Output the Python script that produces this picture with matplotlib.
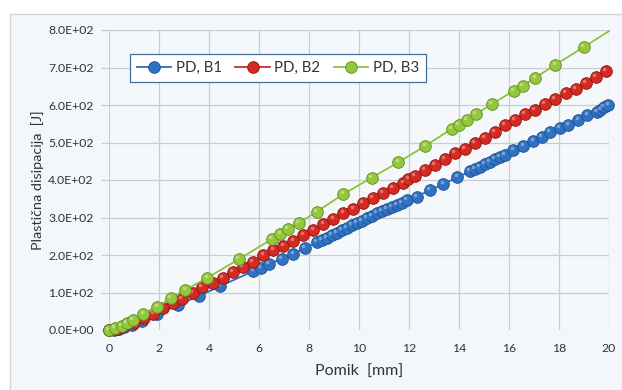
import matplotlib
matplotlib.use("Agg")
import matplotlib.pyplot as plt
from matplotlib.patches import Rectangle
from matplotlib.ticker import FuncFormatter, MultipleLocator
from matplotlib.transforms import offset_copy

# Pomik [mm] / plasticna disipacija [J]
b1_x = [0.0, 0.2, 0.4, 0.6, 0.9, 1.3, 1.93, 2.77, 3.6, 4.45, 5.77, 6.07, 6.4, 6.9,
        7.37, 7.84, 8.31, 8.51, 8.71, 8.91, 9.11, 9.31, 9.51, 9.71, 9.91, 10.11,
        10.31, 10.51, 10.71, 10.91, 11.11, 11.31, 11.51, 11.71, 11.91, 12.31, 12.84,
        13.37, 13.93, 14.44, 14.64, 14.84, 15.04, 15.24, 15.44, 15.64, 15.84, 16.17,
        16.57, 16.97, 17.3, 17.64, 18.04, 18.37, 18.77, 19.13, 19.51, 19.65, 19.8, 19.97]
b1_y = [0, 1, 3, 7, 13, 25, 42, 67, 91, 117, 157, 165, 176, 190,
        203, 218, 234, 240, 246, 253, 260, 267, 273, 279, 285, 292,
        298, 304, 311, 317, 322, 328, 334, 340, 347, 356, 373,
        389, 407, 423, 429, 436, 442, 449, 455, 461, 468, 479,
        492, 505, 516, 527, 538, 548, 560, 573, 582, 588, 594, 600]

b2_x = [0.0, 0.3, 0.6, 1.0, 1.4, 1.77, 2.17, 2.55, 2.91, 3.35, 3.71, 4.15, 4.55,
        4.95, 5.35, 5.75, 6.17, 6.57, 6.97, 7.37, 7.77, 8.17, 8.57, 8.97, 9.37,
        9.77, 10.15, 10.55, 10.95, 11.35, 11.77, 11.97, 12.24, 12.64, 13.04, 13.44,
        13.84, 14.24, 14.64, 15.04, 15.44, 15.84, 16.24, 16.64, 17.04, 17.44, 17.84,
        18.28, 18.68, 19.08, 19.48, 19.88]
b2_y = [0, 4, 10, 20, 32, 44, 58, 71, 83, 100, 114, 126, 140,
        155, 169, 182, 200, 213, 225, 237, 253, 267, 282, 295, 311,
        324, 338, 351, 366, 380, 393, 402, 412, 427, 440, 455,
        471, 484, 499, 512, 529, 546, 560, 575, 588, 603, 616,
        631, 644, 659, 674, 691]

b3_x = [0.0, 0.24, 0.5, 0.7, 0.95, 1.37, 1.93, 2.48, 3.05, 3.93, 5.2, 6.5, 6.85,
        7.15, 7.6, 8.3, 9.37, 10.5, 11.57, 12.65, 13.7, 14.0, 14.3, 14.67, 15.3,
        16.2, 16.55, 17.05, 17.85, 19.0, 20.0]
b3_y = [0, 5, 11, 18, 27, 42, 62, 85, 107, 139, 189, 242, 256,
        269, 286, 315, 362, 406, 447, 491, 536, 547, 560, 575, 602,
        638, 651, 673, 707, 755, 797]

series = [
    ("PD, B1", b1_x, b1_y, "#2f72c4", "#1c4f8f", "#2d6cc0"),
    ("PD, B2", b2_x, b2_y, "#d42a22", "#8c1410", "#c8302a"),
    ("PD, B3", b3_x, b3_y, "#94c83c", "#5f8a1e", "#8cc43c"),
]

plt.rcParams["font.family"] = ["Lato", "DejaVu Sans"]
TXT = "#333333"

fig = plt.figure(figsize=(6.22, 3.9), dpi=100)
fig.patches.append(Rectangle((10 / 622, -0.01), 1.0, 1 - 14 / 390 + 0.01,
                             transform=fig.transFigure, facecolor="#f3f6fa",
                             edgecolor="#d2d4d8", linewidth=1.0, zorder=-5))

ax = fig.add_axes([109 / 622, 1 - 330 / 390, 500 / 622, 300 / 390])
ax.set_zorder(2)
ax.set_facecolor("#f5f8fb")

for i, (name, xs, ys, face, edge, line) in enumerate(series):
    n = len(xs)
    marks = list(range(n - 1)) if name == "PD, B3" else list(range(n))
    ax.plot(xs, ys, color=line, linewidth=1.3, marker="o", markersize=8.4,
            markerfacecolor=face, markeredgecolor=edge, markeredgewidth=0.6,
            markevery=marks, label=name, zorder=3 + i, clip_on=False)
    hl = offset_copy(ax.transData, fig=fig, x=-1.2, y=1.4, units="points")
    ax.plot([xs[k] for k in marks], [ys[k] for k in marks], linestyle="none",
            marker="o", markersize=2.6, markerfacecolor="white",
            markeredgewidth=0, alpha=0.35, transform=hl, zorder=3 + i, clip_on=False)

ax.set_xlim(0, 20)
ax.set_ylim(0, 800)
ax.xaxis.set_major_locator(MultipleLocator(2))
ax.yaxis.set_major_locator(MultipleLocator(100))
ax.yaxis.set_major_formatter(FuncFormatter(lambda v, p: f"{v:.1E}"))
ax.grid(True, color="#c9cdd3", linewidth=0.9, zorder=1)
ax.set_axisbelow(True)
for s in ax.spines.values():
    s.set_visible(False)
ax.tick_params(axis="x", length=0, pad=9, labelsize=8.8, labelcolor=TXT)
ax.tick_params(axis="y", length=6, width=0.9, color="#c9cdd3", pad=5,
               labelsize=8.8, labelcolor=TXT)

ax.set_xlabel("Pomik  [mm]", fontsize=11.5, color=TXT, labelpad=8)
ax.set_ylabel("Plastična disipacija  [J]", fontsize=10.4, color=TXT, labelpad=3)

leg = ax.legend(loc="upper left", bbox_to_anchor=(0.042, 0.92), ncol=3,
                fontsize=10.8, frameon=True, fancybox=False, handlelength=2.3,
                columnspacing=0.9, handletextpad=0.3, borderpad=0.45,
                borderaxespad=0)
leg.get_frame().set_edgecolor("#3e6f9e")
leg.get_frame().set_linewidth(0.9)
leg.get_frame().set_facecolor("white")
leg.get_frame().set_alpha(1)
for t in leg.get_texts():
    t.set_color(TXT)

fig.savefig("out.png", dpi=100)
